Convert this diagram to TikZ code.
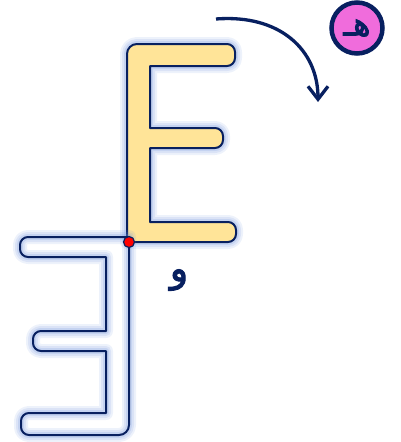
\documentclass[tikz,border=0pt]{standalone}
\usepackage{fontspec}
\newfontfamily\arabicfont[Script=Arabic,FakeBold=2.5]{DejaVu Sans}
\TeXXeTstate=1
\usetikzlibrary{arrows.meta}
\definecolor{navy}{RGB}{8,32,96}
\definecolor{eyellow}{RGB}{255,228,152}
\definecolor{glowblue}{RGB}{110,145,220}
\definecolor{pinkc}{RGB}{240,108,220}
\tikzset{
  glow/.style={draw=glowblue, line join=round},
  outl/.style={draw=navy, line width=2pt, line join=round},
}
\newcommand{\Epath}{(127,242) -- (127,54) arc (180:270:10) -- (227,44) arc (270:360:8) -- (235,58) arc (0:90:8) -- (150,66) -- (150,128) -- (215,128) arc (270:360:8) -- (223,140) arc (0:90:8) -- (150,148) -- (150,222) -- (228,222) arc (270:360:8) -- (236,234) arc (0:90:8) -- cycle}
\begin{document}
\begin{tikzpicture}[x=1pt,y=-1pt]
\useasboundingbox (0,0) rectangle (401,442);
% original E
\path[glow, line width=14pt, opacity=0.12] \Epath;
\path[glow, line width=10pt, opacity=0.15] \Epath;
\path[glow, line width=6pt, opacity=0.2] \Epath;
\path[fill=eyellow] \Epath;
\path[outl] \Epath;
% rotated E
\begin{scope}[rotate around={180:(128,239.5)}]
\path[glow, line width=14pt, opacity=0.12] \Epath;
\path[glow, line width=10pt, opacity=0.15] \Epath;
\path[glow, line width=6pt, opacity=0.2] \Epath;
\path[outl] \Epath;
\end{scope}
% pivot
\node[circle, fill=red, draw=navy, line width=1.2pt, inner sep=0pt, minimum size=11pt] (pivot) at (129,242) {};
% label waw
\node[text=navy, font=\arabicfont\fontsize{38}{40}\selectfont, inner sep=0pt] (waw) at (179,280) {\beginR و\endR};
% arrow
\coordinate (as) at (216,19);
\coordinate (ae) at (318,102);
\draw[navy, line width=3.3pt, -{Straight Barb[length=13pt,width=20pt]}] (as) .. controls (280,14) and (318,50) .. (ae);
% circle badge
\node[circle, fill=pinkc, draw=navy, line width=4.5pt, minimum size=51pt, inner sep=0pt, text=navy, font=\arabicfont\fontsize{33}{35}\selectfont] (badge) at (357,28) {\beginR هـ\endR};
\end{tikzpicture}
\end{document}
